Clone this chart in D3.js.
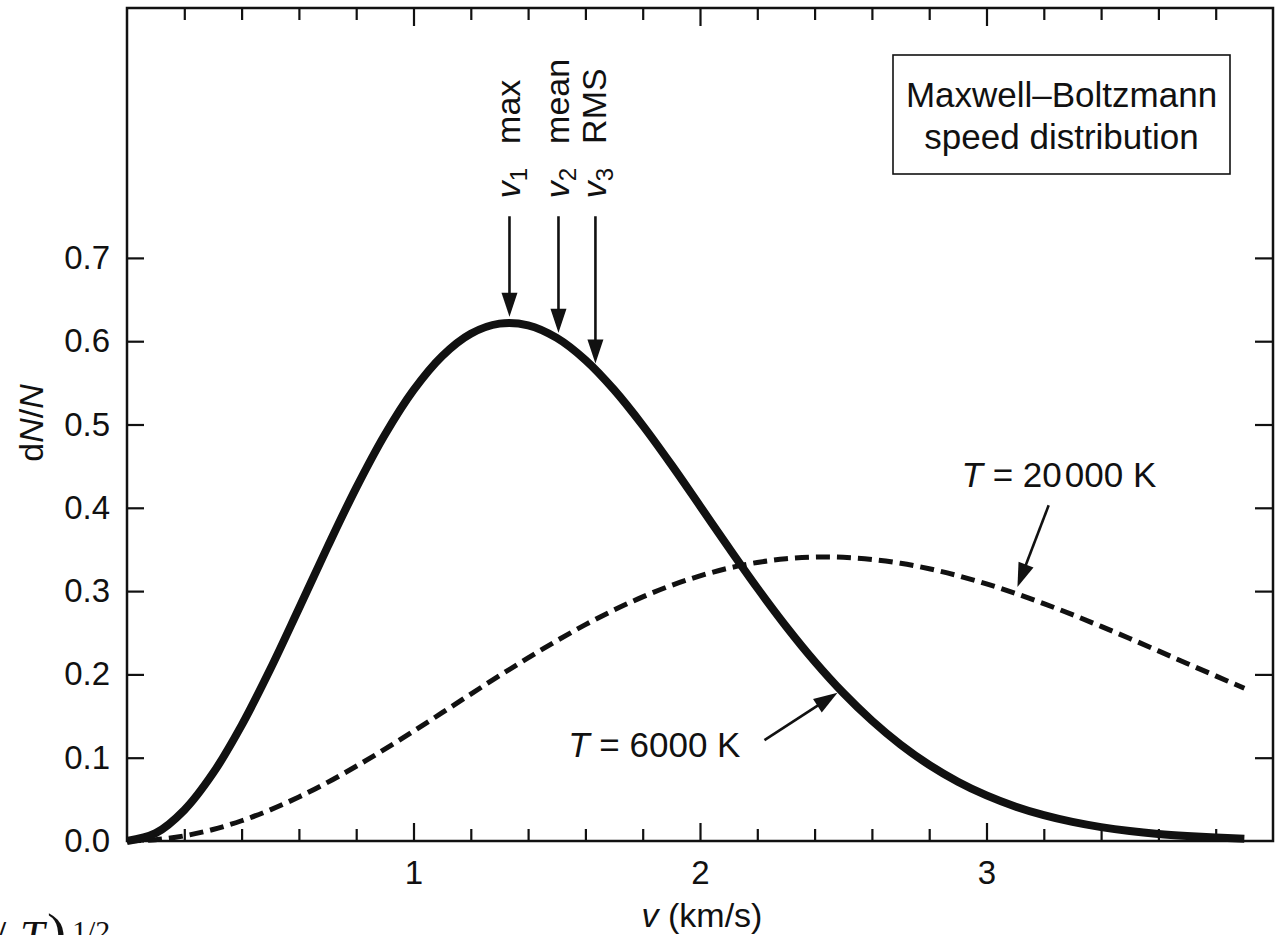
<!DOCTYPE html>
<html>
<head>
<meta charset="utf-8">
<script src="https://cdn.jsdelivr.net/npm/d3@7"></script>
<style>
  html, body { margin: 0; padding: 0; background: #fff; }
  svg { display: block; font-family: "Liberation Sans", Arial, Helvetica, sans-serif; }
</style>
</head>
<body>
<svg id="chart" width="1276" height="935"></svg>
<script>
// Speed grid (km/s) and dN/N for the two temperatures
const speeds = [0.0, 0.1, 0.2, 0.3, 0.4, 0.5, 0.6, 0.7, 0.8, 0.9,
                1.0, 1.1, 1.2, 1.3, 1.4, 1.5, 1.6, 1.7, 1.8, 1.9,
                2.0, 2.1, 2.2, 2.3, 2.4, 2.5, 2.6, 2.7, 2.8, 2.9,
                3.0, 3.1, 3.2, 3.3, 3.4, 3.5, 3.6, 3.7, 3.8, 3.9];
const dens6000 = [0.0000, 0.0094, 0.0371, 0.0812, 0.1388, 0.2061, 0.2791, 0.3531, 0.4240, 0.4878,
                  0.5413, 0.5822, 0.6090, 0.6211, 0.6191, 0.6040, 0.5775, 0.5417, 0.4990, 0.4518,
                  0.4022, 0.3523, 0.3037, 0.2579, 0.2157, 0.1778, 0.1445, 0.1157, 0.0914, 0.0712,
                  0.0547, 0.0415, 0.0310, 0.0229, 0.0167, 0.0120, 0.0085, 0.0060, 0.0041, 0.0028];
const dens20000 = [0.0000, 0.0016, 0.0062, 0.0138, 0.0243, 0.0374, 0.0529, 0.0704, 0.0897, 0.1103,
                   0.1319, 0.1540, 0.1764, 0.1984, 0.2199, 0.2404, 0.2597, 0.2773, 0.2931, 0.3068,
                   0.3183, 0.3276, 0.3344, 0.3388, 0.3408, 0.3406, 0.3380, 0.3334, 0.3269, 0.3185,
                   0.3087, 0.2974, 0.2850, 0.2717, 0.2576, 0.2431, 0.2282, 0.2131, 0.1982, 0.1833];

// Characteristic speeds of the 6000 K curve
const charNames  = ["max", "mean", "RMS"];
const charSubs   = ["1", "2", "3"];
const charSpeeds = [1.335, 1.506, 1.635];
const charDens   = [0.622, 0.603, 0.566];

// Axis ticks
const yTicks = [0.0, 0.1, 0.2, 0.3, 0.4, 0.5, 0.6, 0.7];
const yTickLabels = ["0.0", "0.1", "0.2", "0.3", "0.4", "0.5", "0.6", "0.7"];
const xMajor = [1, 2, 3];
const xMajorLabels = ["1", "2", "3"];
const xMinor = [0.2, 0.4, 0.6, 0.8, 1.2, 1.4, 1.6, 1.8, 2.2, 2.4, 2.6, 2.8, 3.2, 3.4, 3.6, 3.8];

const ink = "#111";
const svg = d3.select("#chart");

const x = d3.scaleLinear().domain([0, 4]).range([127, 1273]);
const y = d3.scaleLinear().domain([0, 1]).range([841, 8]);

function styleAxis(g, fontSize) {
  g.select(".domain").remove();
  g.selectAll(".tick line").attr("stroke", ink).attr("stroke-width", 2.2);
  g.selectAll(".tick text").attr("fill", ink)
    .attr("font-size", fontSize)
    .attr("font-family", '"Liberation Sans", Arial, Helvetica, sans-serif');
}

// bottom axis: major with labels, minor without
svg.append("g").attr("transform", `translate(0,${y(0)})`)
  .call(d3.axisBottom(x).tickValues(xMajor).tickFormat((d, i) => xMajorLabels[i])
        .tickSize(-18).tickSizeOuter(0).tickPadding(20))
  .call(g => styleAxis(g, 33));
svg.append("g").attr("transform", `translate(0,${y(0)})`)
  .call(d3.axisBottom(x).tickValues(xMinor).tickFormat("").tickSize(-12).tickSizeOuter(0))
  .call(g => styleAxis(g, 33));

// top axis mirrors the bottom ticks
svg.append("g").attr("transform", `translate(0,${y(1)})`)
  .call(d3.axisTop(x).tickValues(xMajor).tickFormat("").tickSize(-18).tickSizeOuter(0))
  .call(g => styleAxis(g, 33));
svg.append("g").attr("transform", `translate(0,${y(1)})`)
  .call(d3.axisTop(x).tickValues(xMinor).tickFormat("").tickSize(-12).tickSizeOuter(0))
  .call(g => styleAxis(g, 33));

// left axis with labels
svg.append("g").attr("transform", `translate(${x(0)},0)`)
  .call(d3.axisLeft(y).tickValues(yTicks).tickFormat((d, i) => yTickLabels[i])
        .tickSize(-17).tickSizeOuter(0).tickPadding(17))
  .call(g => styleAxis(g, 33));

// right axis, ticks only
svg.append("g").attr("transform", `translate(${x(4)},0)`)
  .call(d3.axisRight(y).tickValues(yTicks.slice(1)).tickFormat("").tickSize(-18).tickSizeOuter(0))
  .call(g => styleAxis(g, 33));

// frame
svg.append("rect")
  .attr("x", x(0)).attr("y", y(1))
  .attr("width", x(4) - x(0)).attr("height", y(0) - y(1))
  .attr("fill", "none").attr("stroke", ink).attr("stroke-width", 2.5);

// curves
const line = d3.line()
  .x(d => x(d[0])).y(d => y(d[1]))
  .curve(d3.curveCatmullRom.alpha(0.5));

svg.append("path")
  .datum(speeds.map((v, i) => [v, dens20000[i]]))
  .attr("d", line)
  .attr("fill", "none").attr("stroke", ink)
  .attr("stroke-width", 5).attr("stroke-dasharray", "14 7");

svg.append("path")
  .datum(speeds.map((v, i) => [v, dens6000[i]]))
  .attr("d", line)
  .attr("fill", "none").attr("stroke", ink)
  .attr("stroke-width", 8).attr("stroke-linejoin", "round");

// arrow helper: shaft plus filled triangular head
function arrow(x1, y1, x2, y2) {
  const headLen = 24, headW = 16;
  const dx = x2 - x1, dy = y2 - y1, L = Math.hypot(dx, dy);
  const ux = dx / L, uy = dy / L;
  const bx = x2 - ux * headLen, by = y2 - uy * headLen;
  svg.append("line")
    .attr("x1", x1).attr("y1", y1).attr("x2", bx + ux * 3).attr("y2", by + uy * 3)
    .attr("stroke", ink).attr("stroke-width", 2.6);
  svg.append("path")
    .attr("d", `M${x2},${y2}L${bx - uy * headW / 2},${by + ux * headW / 2}L${bx + uy * headW / 2},${by - ux * headW / 2}Z`)
    .attr("fill", ink);
}

// characteristic-speed arrows and rotated labels
const arrowTop = 0.75;
charSpeeds.forEach((v, i) => {
  const cx = x(v);
  arrow(cx, y(arrowTop), cx, y(charDens[i]) - 6);
  const t = svg.append("text")
    .attr("transform", `translate(${cx + 11},${y(arrowTop) - 18}) rotate(-90)`)
    .attr("font-size", 34).attr("fill", ink);
  t.append("tspan").attr("font-style", "italic").text("v");
  t.append("tspan").attr("font-size", 24).attr("dy", 7).text(charSubs[i]);
  t.append("tspan").attr("dy", -7).attr("dx", 24).text(charNames[i]);
});

// temperature annotations
const t6000 = svg.append("text")
  .attr("x", x(1.54)).attr("y", y(0.1008))
  .attr("font-size", 35).attr("fill", ink);
t6000.append("tspan").attr("font-style", "italic").text("T");
t6000.append("tspan").text(" = 6000 K");
arrow(x(2.225), y(0.121), x(2.48), y(0.178));

const t20000 = svg.append("text")
  .attr("x", x(2.913)).attr("y", y(0.425))
  .attr("font-size", 35).attr("fill", ink);
t20000.append("tspan").attr("font-style", "italic").text("T");
t20000.append("tspan").text(" = 20");
t20000.append("tspan").attr("dx", 3).text("000 K");
arrow(x(3.217), y(0.403), x(3.108), y(0.305));

// legend box
const box = { x0: 893, y0: 55, x1: 1230, y1: 174 };
svg.append("rect")
  .attr("x", box.x0).attr("y", box.y0)
  .attr("width", box.x1 - box.x0).attr("height", box.y1 - box.y0)
  .attr("fill", "#fff").attr("stroke", ink).attr("stroke-width", 1.6);
svg.append("text")
  .attr("x", (box.x0 + box.x1) / 2).attr("y", 107)
  .attr("text-anchor", "middle").attr("font-size", 35).attr("fill", ink)
  .text("Maxwell\u2013Boltzmann");
svg.append("text")
  .attr("x", (box.x0 + box.x1) / 2).attr("y", 149)
  .attr("text-anchor", "middle").attr("font-size", 35).attr("fill", ink)
  .text("speed distribution");

// axis titles
const yTitle = svg.append("text")
  .attr("transform", "translate(43,423) rotate(-90)")
  .attr("text-anchor", "middle").attr("font-size", 34).attr("fill", ink);
yTitle.append("tspan").text("d");
yTitle.append("tspan").attr("font-style", "italic").text("N");
yTitle.append("tspan").text("/");
yTitle.append("tspan").attr("font-style", "italic").text("N");

const xTitle = svg.append("text")
  .attr("x", 702).attr("y", 927)
  .attr("text-anchor", "middle").attr("font-size", 34).attr("fill", ink);
xTitle.append("tspan").attr("font-style", "italic").text("v");
xTitle.append("tspan").text(" (km/s)");

// formula fragment running in from below the figure
const frag = svg.append("g")
  .attr("font-family", '"Liberation Serif", "DejaVu Serif", serif')
  .attr("fill", ink);
frag.append("text").attr("x", -6).attr("y", 951).attr("font-size", 44).text("/");
frag.append("text").attr("x", 20).attr("y", 951).attr("font-size", 44).attr("font-style", "italic").text("T");
frag.append("text").attr("x", 47).attr("y", 953).attr("font-size", 58).text(")");
frag.append("text").attr("x", 72).attr("y", 941).attr("font-size", 30).text("1/2");
</script>
</body>
</html>
